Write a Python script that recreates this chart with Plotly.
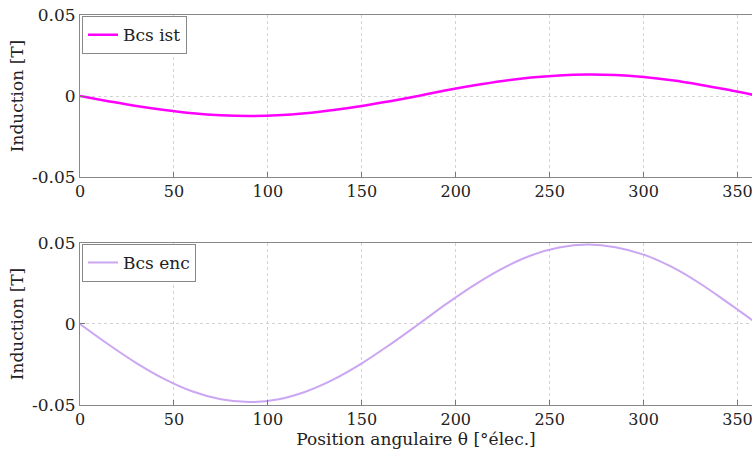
import plotly.graph_objects as go
from plotly.subplots import make_subplots

theta = [0, 15, 30, 45, 60, 75, 90, 105, 120, 135, 150, 165, 180,
         195, 210, 225, 240, 255, 270, 285, 300, 315, 330, 345, 360]
bcs_ist = [0.0, -0.0032, -0.0062, -0.0087, -0.0107, -0.0119, -0.0123, -0.0119, -0.0107,
           -0.0087, -0.0062, -0.0032, 0.0, 0.0035, 0.0066, 0.0093, 0.0114, 0.0127,
           0.0132, 0.0129, 0.0117, 0.0097, 0.0070, 0.0038, 0.0003]
bcs_enc = [0.0, -0.0125, -0.0241, -0.0340, -0.0417, -0.0465, -0.0482, -0.0466, -0.0418,
           -0.0342, -0.0243, -0.0127, -0.0003, 0.0124, 0.0242, 0.0344, 0.0423, 0.0472,
           0.0490, 0.0474, 0.0428, 0.0352, 0.0250, 0.0130, 0.0005]
x_ticks = [0, 50, 100, 150, 200, 250, 300, 350]
y_ticks = [-0.05, 0, 0.05]
y_tick_labels = ["-0.05", "0", "0.05"]

FONT = "DejaVu Serif"
TXT = "#222"
FS = 17
fig = make_subplots(rows=2, cols=1, vertical_spacing=0.1692)

fig.add_trace(go.Scatter(x=theta, y=bcs_ist, mode="lines", name="Bcs ist", showlegend=True,
                         line=dict(color="#FF00FF", width=2.5, shape="spline"),
                         legend="legend"), row=1, col=1)
fig.add_trace(go.Scatter(x=theta, y=bcs_enc, mode="lines", name="Bcs enc", showlegend=True,
                         line=dict(color="#CBA6F2", width=2, shape="spline"),
                         legend="legend2"), row=2, col=1)

xax = dict(range=[0, 357.7], tickvals=x_ticks, ticks="inside", ticklen=5,
           tickcolor="#777", showline=True, linecolor="#888", linewidth=1, mirror=True,
           showgrid=True, gridcolor="#d2d2d2", griddash="dot", gridwidth=1,
           zeroline=False, automargin=False, ticklabelstandoff=0, ticklabeloverflow="allow",
           tickfont=dict(family=FONT, size=16, color=TXT))
yax = dict(range=[-0.05, 0.05], tickvals=y_ticks, ticktext=y_tick_labels,
           ticks="inside", ticklen=5, tickcolor="#777", showline=True,
           linecolor="#888", linewidth=1, mirror=False, showgrid=True,
           gridcolor="#d2d2d2", griddash="dot", zeroline=False, automargin=False,
           ticklabeloverflow="allow",
           tickfont=dict(family=FONT, size=FS, color=TXT),
           title=dict(text="Induction [T]", font=dict(family=FONT, size=FS, color=TXT), standoff=4))

fig.update_xaxes(**xax)
fig.update_yaxes(**yax)
fig.update_xaxes(title=dict(text="Position angulaire θ [°élec.]",
                            font=dict(family=FONT, size=FS, color=TXT), standoff=0), row=2, col=1)

leg = dict(xanchor="left", yanchor="top", bordercolor="#888", borderwidth=1, bgcolor="white",
           font=dict(family=FONT, size=FS, color=TXT), itemwidth=30, tracegroupgap=0)
fig.update_layout(
    width=752, height=455, showlegend=True,
    margin=dict(l=80, r=0, t=15, b=50, autoexpand=False),
    paper_bgcolor="white", plot_bgcolor="white",
    font=dict(family=FONT, color=TXT),
    legend=dict(x=0.003, y=0.997, **leg),
    legend2=dict(x=0.003, y=0.413, **leg),
)

fig.write_html("out.html", config={"displayModeBar": False},
               post_script="document.body.style.margin='0';document.body.style.overflow='hidden';")
